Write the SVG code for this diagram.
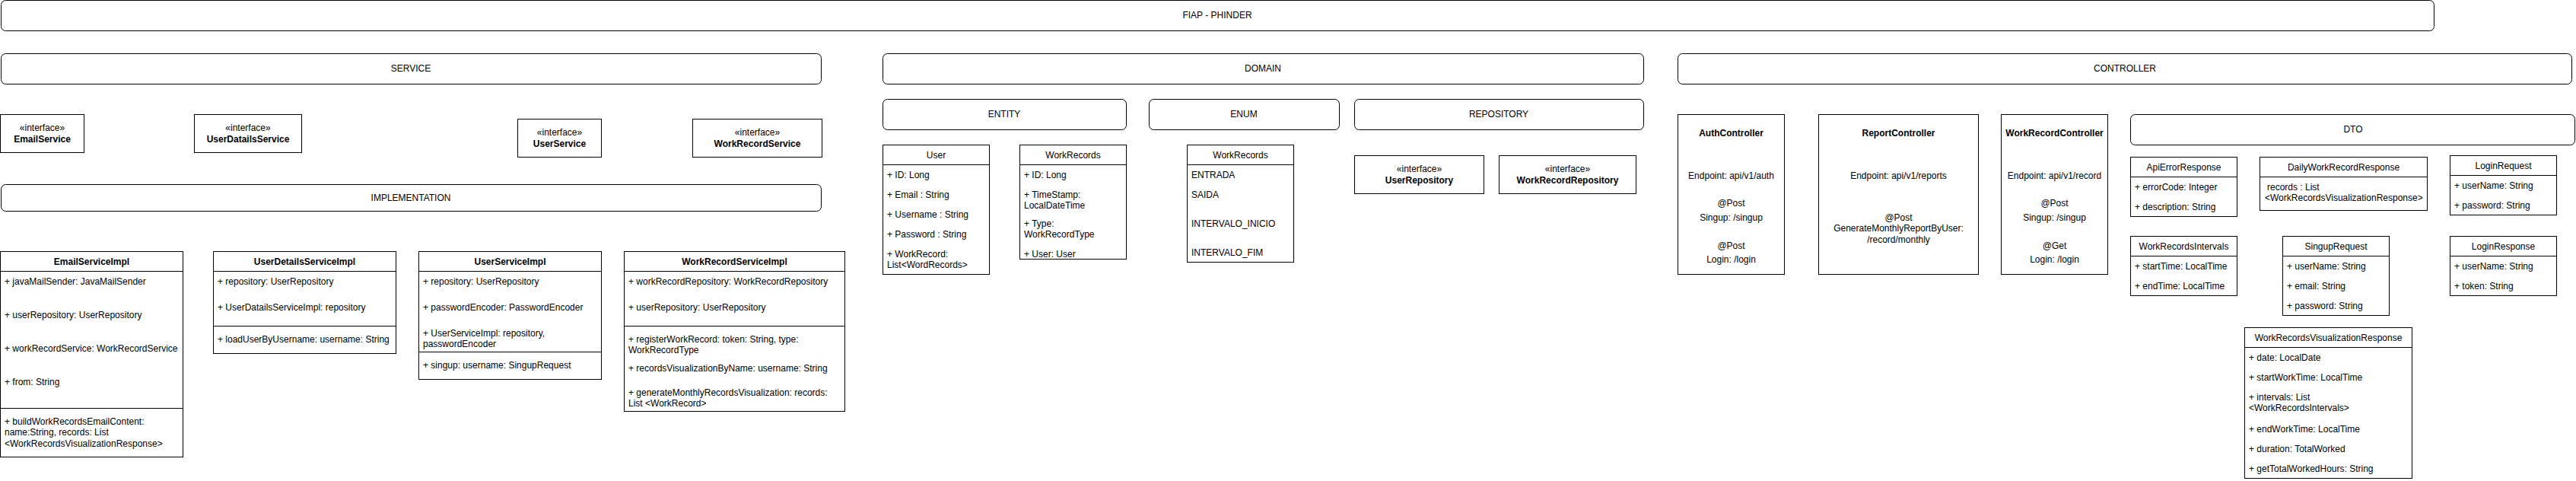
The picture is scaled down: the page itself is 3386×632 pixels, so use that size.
<svg xmlns="http://www.w3.org/2000/svg" width="3386" height="632" viewBox="0 0 3386 632">
<style>
  rect { fill: #fff; stroke: #000; stroke-width: 1; }
  line { stroke: #000; stroke-width: 1; }
  text { font-family: "Liberation Sans", Arial, sans-serif; font-size: 12px; fill: #000; dominant-baseline: central; }
  .c { text-anchor: middle; }
  .b { font-weight: bold; }
</style>
<rect x="0" y="0" width="3386" height="632" style="stroke:none;fill:#fff"/>

<!-- Containers / headers -->
<g id="title"><rect x="1.5" y="0.5" width="3198" height="40" rx="6"/><text class="c" x="1600" y="20">FIAP - PHINDER</text></g>
<g id="service"><rect x="1.5" y="70.5" width="1078" height="40" rx="6"/><text class="c" x="540" y="90">SERVICE</text></g>
<g id="implementation"><rect x="1.5" y="242.5" width="1078" height="35" rx="6"/><text class="c" x="540" y="259.5">IMPLEMENTATION</text></g>
<g id="domain"><rect x="1160.5" y="70.5" width="1000" height="40" rx="6"/><text class="c" x="1660" y="90">DOMAIN</text></g>
<g id="entity"><rect x="1160.5" y="130.5" width="320" height="40" rx="6"/><text class="c" x="1320" y="150">ENTITY</text></g>
<g id="enum"><rect x="1510.5" y="130.5" width="250" height="40" rx="6"/><text class="c" x="1635" y="150">ENUM</text></g>
<g id="repository"><rect x="1780.5" y="130.5" width="380" height="40" rx="6"/><text class="c" x="1970" y="150">REPOSITORY</text></g>
<g id="controller"><rect x="2205.5" y="70.5" width="1175" height="40" rx="6"/><text class="c" x="2793" y="90">CONTROLLER</text></g>
<g id="dto"><rect x="2800.5" y="150.5" width="584" height="40" rx="6"/><text class="c" x="3093" y="170">DTO</text></g>

<!-- Interfaces -->
<g id="EmailService"><rect x="0.5" y="150.5" width="110" height="50"/><text class="c" x="55.5" y="167.5">«interface»</text><text class="c b" x="55.5" y="182.5">EmailService</text></g>
<g id="UserDatailsService"><rect x="255.5" y="150.5" width="141" height="50"/><text class="c" x="326" y="167.5">«interface»</text><text class="c b" x="326" y="182.5">UserDatailsService</text></g>
<g id="UserService"><rect x="680.5" y="156.5" width="110" height="50"/><text class="c" x="735.5" y="173.5">«interface»</text><text class="c b" x="735.5" y="188.5">UserService</text></g>
<g id="WorkRecordService"><rect x="910.5" y="156.5" width="170" height="50"/><text class="c" x="995.5" y="173.5">«interface»</text><text class="c b" x="995.5" y="188.5">WorkRecordService</text></g>
<g id="UserRepository"><rect x="1780.5" y="204.5" width="170" height="50"/><text class="c" x="1865.5" y="221.5">«interface»</text><text class="c b" x="1865.5" y="236.5">UserRepository</text></g>
<g id="WorkRecordRepository"><rect x="1970.5" y="204.5" width="180" height="50"/><text class="c" x="2060.5" y="221.5">«interface»</text><text class="c b" x="2060.5" y="236.5">WorkRecordRepository</text></g>

<!-- Implementation classes -->
<g id="EmailServiceImpl">
  <rect x="0.5" y="330.5" width="240" height="270"/>
  <line x1="0.5" y1="356.5" x2="240.5" y2="356.5"/><line x1="0.5" y1="536.5" x2="240.5" y2="536.5"/>
  <text class="c b" x="120.5" y="343.5">EmailServiceImpl</text>
  <text x="6" y="370">+ javaMailSender: JavaMailSender</text>
  <text x="6" y="414">+ userRepository: UserRepository</text>
  <text x="6" y="458">+ workRecordService: WorkRecordService</text>
  <text x="6" y="502">+ from: String</text>
  <text x="6" y="554">+ buildWorkRecordsEmailContent:</text>
  <text x="6" y="568">name:String, records: List</text>
  <text x="6" y="582.5">&lt;WorkRecordsVisualizationResponse&gt;</text>
</g>
<g id="UserDetailsServiceImpl">
  <rect x="280.5" y="330.5" width="240" height="134"/>
  <line x1="280.5" y1="356.5" x2="520.5" y2="356.5"/><line x1="280.5" y1="428.5" x2="520.5" y2="428.5"/>
  <text class="c b" x="400.5" y="343.5">UserDetailsServiceImpl</text>
  <text x="286" y="370">+ repository: UserRepository</text>
  <text x="286" y="404">+ UserDatailsServiceImpl: repository</text>
  <text x="286" y="446">+ loadUserByUsername: username: String</text>
</g>
<g id="UserServiceImpl">
  <rect x="550.5" y="330.5" width="240" height="168"/>
  <line x1="550.5" y1="356.5" x2="790.5" y2="356.5"/><line x1="550.5" y1="462.5" x2="790.5" y2="462.5"/>
  <text class="c b" x="670.5" y="343.5">UserServiceImpl</text>
  <text x="556" y="370">+ repository: UserRepository</text>
  <text x="556" y="404">+ passwordEncoder: PasswordEncoder</text>
  <text x="556" y="438">+ UserServiceImpl: repository,</text>
  <text x="556" y="452">passwordEncoder</text>
  <text x="556" y="480">+ singup: username: SingupRequest</text>
</g>
<g id="WorkRecordServiceImpl">
  <rect x="820.5" y="330.5" width="290" height="210"/>
  <line x1="820.5" y1="356.5" x2="1110.5" y2="356.5"/><line x1="820.5" y1="428.5" x2="1110.5" y2="428.5"/>
  <text class="c b" x="965.5" y="343.5">WorkRecordServiceImpl</text>
  <text x="826" y="370">+ workRecordRepository: WorkRecordRepository</text>
  <text x="826" y="404">+ userRepository: UserRepository</text>
  <text x="826" y="446">+ registerWorkRecord: token: String, type:</text>
  <text x="826" y="460">WorkRecordType</text>
  <text x="826" y="484">+ recordsVisualizationByName: username: String</text>
  <text x="826" y="516">+ generateMonthlyRecordsVisualization: records:</text>
  <text x="826" y="530">List &lt;WorkRecord&gt;</text>
</g>

<!-- Domain -->
<g id="User">
  <rect x="1160.5" y="190.5" width="140" height="170"/>
  <line x1="1160.5" y1="216.5" x2="1300.5" y2="216.5"/>
  <text class="c" x="1230.5" y="203.5">User</text>
  <text x="1166" y="230">+ ID: Long</text>
  <text x="1166" y="256">+ Email : String</text>
  <text x="1166" y="282">+ Username : String</text>
  <text x="1166" y="308">+ Password : String</text>
  <text x="1166" y="334">+ WorkRecord:</text>
  <text x="1166" y="348">List&lt;WordRecords&gt;</text>
</g>
<g id="WorkRecordsEntity">
  <rect x="1340.5" y="190.5" width="140" height="150"/>
  <line x1="1340.5" y1="216.5" x2="1480.5" y2="216.5"/>
  <text class="c" x="1410.5" y="203.5">WorkRecords</text>
  <text x="1346" y="230">+ ID: Long</text>
  <text x="1346" y="256">+ TimeStamp:</text>
  <text x="1346" y="270">LocalDateTime</text>
  <text x="1346" y="294">+ Type:</text>
  <text x="1346" y="308">WorkRecordType</text>
  <text x="1346" y="334">+ User: User</text>
</g>
<g id="WorkRecordsEnum">
  <rect x="1560.5" y="190.5" width="140" height="154"/>
  <line x1="1560.5" y1="216.5" x2="1700.5" y2="216.5"/>
  <text class="c" x="1630.5" y="203.5">WorkRecords</text>
  <text x="1566" y="230">ENTRADA</text>
  <text x="1566" y="256">SAIDA</text>
  <text x="1566" y="294">INTERVALO_INICIO</text>
  <text x="1566" y="332">INTERVALO_FIM</text>
</g>

<!-- Controllers -->
<g id="AuthController">
  <rect x="2205.5" y="150.5" width="140" height="210"/>
  <text class="c b" x="2275.5" y="175">AuthController</text>
  <text class="c" x="2275.5" y="231">Endpoint: api/v1/auth</text>
  <text class="c" x="2275.5" y="267">@Post</text>
  <text class="c" x="2275.5" y="286">Singup: /singup</text>
  <text class="c" x="2275.5" y="323">@Post</text>
  <text class="c" x="2275.5" y="341">Login: /login</text>
</g>
<g id="ReportController">
  <rect x="2390.5" y="150.5" width="210" height="210"/>
  <text class="c b" x="2495.5" y="175">ReportController</text>
  <text class="c" x="2495.5" y="231">Endpoint: api/v1/reports</text>
  <text class="c" x="2495.5" y="286">@Post</text>
  <text class="c" x="2495.5" y="300">GenerateMonthlyReportByUser:</text>
  <text class="c" x="2495.5" y="314.5">/record/monthly</text>
</g>
<g id="WorkRecordController">
  <rect x="2630.5" y="150.5" width="140" height="210"/>
  <text class="c b" x="2700.5" y="175">WorkRecordController</text>
  <text class="c" x="2700.5" y="231">Endpoint: api/v1/record</text>
  <text class="c" x="2700.5" y="267">@Post</text>
  <text class="c" x="2700.5" y="286">Singup: /singup</text>
  <text class="c" x="2700.5" y="323">@Get</text>
  <text class="c" x="2700.5" y="341">Login: /login</text>
</g>

<!-- DTOs -->
<g id="ApiErrorResponse">
  <rect x="2800.5" y="206.5" width="140" height="78"/>
  <line x1="2800.5" y1="232.5" x2="2940.5" y2="232.5"/>
  <text class="c" x="2870.5" y="219.5">ApiErrorResponse</text>
  <text x="2806" y="246">+ errorCode: Integer</text>
  <text x="2806" y="272">+ description: String</text>
</g>
<g id="DailyWorkRecordResponse">
  <rect x="2970.5" y="206.5" width="220" height="70"/>
  <line x1="2970.5" y1="232.5" x2="3190.5" y2="232.5"/>
  <text class="c" x="3080.5" y="219.5">DailyWorkRecordResponse</text>
  <text x="2980" y="246">records : List</text>
  <text x="2977" y="260">&lt;WorkRecordsVisualizationResponse&gt;</text>
</g>
<g id="LoginRequest">
  <rect x="3220.5" y="204.5" width="140" height="78"/>
  <line x1="3220.5" y1="230.5" x2="3360.5" y2="230.5"/>
  <text class="c" x="3290.5" y="217.5">LoginRequest</text>
  <text x="3226" y="244">+ userName: String</text>
  <text x="3226" y="270">+ password: String</text>
</g>
<g id="WorkRecordsIntervals">
  <rect x="2800.5" y="310.5" width="140" height="78"/>
  <line x1="2800.5" y1="336.5" x2="2940.5" y2="336.5"/>
  <text class="c" x="2870.5" y="323.5">WorkRecordsIntervals</text>
  <text x="2806" y="350">+ startTime: LocalTime</text>
  <text x="2806" y="376">+ endTime: LocalTime</text>
</g>
<g id="SingupRequest">
  <rect x="3000.5" y="310.5" width="140" height="104"/>
  <line x1="3000.5" y1="336.5" x2="3140.5" y2="336.5"/>
  <text class="c" x="3070.5" y="323.5">SingupRequest</text>
  <text x="3006" y="350">+ userName: String</text>
  <text x="3006" y="376">+ email: String</text>
  <text x="3006" y="402">+ password: String</text>
</g>
<g id="LoginResponse">
  <rect x="3220.5" y="310.5" width="140" height="78"/>
  <line x1="3220.5" y1="336.5" x2="3360.5" y2="336.5"/>
  <text class="c" x="3290.5" y="323.5">LoginResponse</text>
  <text x="3226" y="350">+ userName: String</text>
  <text x="3226" y="376">+ token: String</text>
</g>
<g id="WorkRecordsVisualizationResponse">
  <rect x="2950.5" y="430.5" width="220" height="198"/>
  <line x1="2950.5" y1="456.5" x2="3170.5" y2="456.5"/>
  <text class="c" x="3060.5" y="443.5">WorkRecordsVisualizationResponse</text>
  <text x="2956" y="470">+ date: LocalDate</text>
  <text x="2956" y="496">+ startWorkTime: LocalTime</text>
  <text x="2956" y="521.5">+ intervals: List</text>
  <text x="2956" y="535.5">&lt;WorkRecordsIntervals&gt;</text>
  <text x="2956" y="563.5">+ endWorkTime: LocalTime</text>
  <text x="2956" y="589.5">+ duration: TotalWorked</text>
  <text x="2956" y="615.5">+ getTotalWorkedHours: String</text>
</g>

<g id="connectors"></g>
</svg>
